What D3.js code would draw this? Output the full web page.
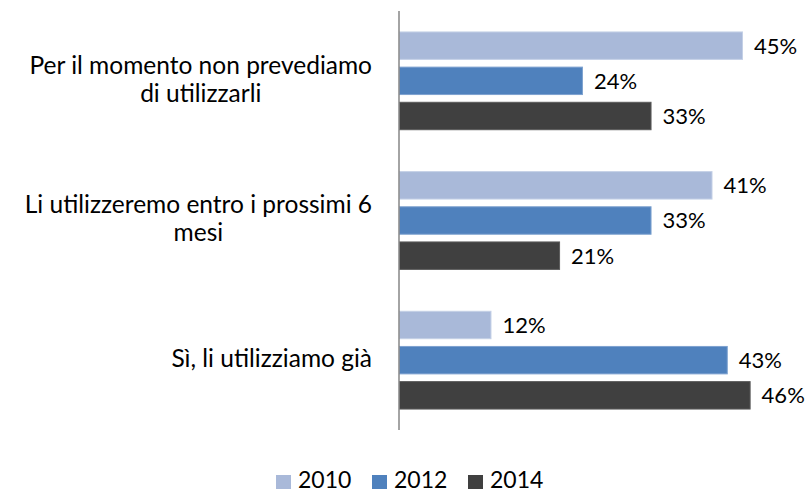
<!DOCTYPE html>
<html>
<head>
<meta charset="utf-8">
<script src="https://cdn.jsdelivr.net/npm/d3@7"></script>
<style>
  body { margin: 0; background: #fff; }
  svg text { font-family: Lato, "Liberation Sans", sans-serif; fill: #000; }
</style>
</head>
<body>
<svg width="805" height="492"></svg>
<script>
// Dati
const categories = [
  ["Per il momento non prevediamo", "di utilizzarli"],
  ["Li utilizzeremo entro i prossimi 6", "mesi"],
  ["Sì, li utilizziamo già"]
];
const series = ["2010", "2012", "2014"];
const values2010 = [45, 41, 12];
const values2012 = [24, 33, 43];
const values2014 = [33, 21, 46];
const colors = ["#A9B9D9", "#4F81BD", "#404040"];
const strokes = ["#C4D0E6", "#7DA1CF", "#5A5A5A"];

const svg = d3.select("svg");
const valFontSize = 22, legFontSize = 23, catFontSize = 24.5;
const axisX = 399, plotTop = 11, plotBottom = 430;

const rows = categories.map((c, i) => ({
  id: i, lines: c,
  vals: [values2010[i], values2012[i], values2014[i]]
}));

const y0 = d3.scaleBand()
    .domain(rows.map(d => d.id))
    .range([plotTop, plotBottom])
    .paddingInner(0.3)
    .paddingOuter(0.15);

const y1 = d3.scaleBand()
    .domain(series)
    .range([0, y0.bandwidth()])
    .paddingInner(0.22);

const x = d3.scaleLinear()
    .domain([0, 45])
    .range([axisX, 742]);

const g = svg.append("g");

const groups = g.selectAll(".grp")
  .data(rows)
  .join("g")
    .attr("class", "grp")
    .attr("transform", d => `translate(0,${y0(d.id)})`);

groups.selectAll("rect")
  .data(d => d.vals.map((v, k) => ({ v, k })))
  .join("rect")
    .attr("x", x(0) + 0.5)
    .attr("y", d => y1(series[d.k]))
    .attr("width", d => x(d.v) - x(0))
    .attr("height", y1.bandwidth())
    .attr("fill", d => colors[d.k])
    .attr("stroke", d => strokes[d.k])
    .attr("stroke-width", 1);

groups.selectAll(".val")
  .data(d => d.vals.map((v, k) => ({ v, k })))
  .join("text")
    .attr("class", "val")
    .attr("x", d => x(d.v) + 12)
    .attr("y", d => y1(series[d.k]) + y1.bandwidth() / 2)
    .attr("dy", "0.36em")
    .style("font-size", valFontSize + "px")
    .text(d => d.v + "%");

// Asse verticale
svg.append("line")
    .attr("x1", axisX).attr("x2", axisX)
    .attr("y1", plotTop).attr("y2", plotBottom)
    .attr("stroke", "#868686")
    .attr("stroke-width", 1.5);

// Etichette categorie
const labelRight = 372, lineH = 28;
groups.each(function(d) {
  const grp = d3.select(this);
  const t = grp.append("text").style("font-size", catFontSize + "px").attr("text-anchor", "middle");
  const n = d.lines.length;
  d.lines.forEach((ln, j) => {
    t.append("tspan")
      .attr("y", y0.bandwidth() / 2 + (j - (n - 1) / 2) * lineH)
      .attr("dy", "0.28em")
      .text(ln);
  });
  let maxW = 0;
  t.selectAll("tspan").each(function() { maxW = Math.max(maxW, this.getComputedTextLength()); });
  t.selectAll("tspan").attr("x", labelRight - maxW / 2);
});

// Legenda
const legend = svg.append("g").attr("transform", "translate(276,475)");
const item = legend.selectAll("g")
  .data(series)
  .join("g")
    .attr("transform", (d, i) => `translate(${i * 96},0)`);
item.append("rect")
    .attr("width", 15).attr("height", 14)
    .attr("fill", (d, i) => colors[i]);
item.append("text")
    .attr("x", 22).attr("y", 12.5)
    .style("font-size", legFontSize + "px")
    .text(d => d);
</script>
</body>
</html>
